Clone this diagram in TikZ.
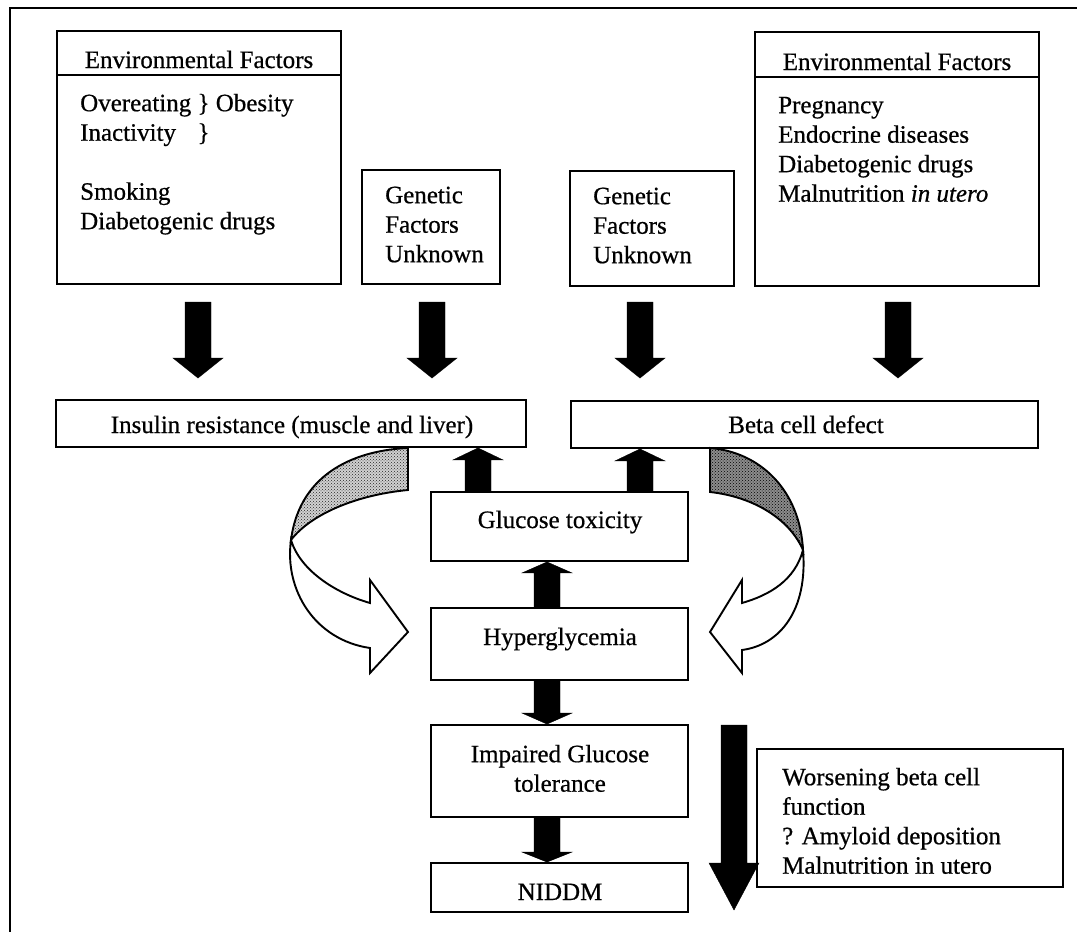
\documentclass[tikz,border=0pt]{standalone}
\usepackage{fontspec}
\setmainfont{Liberation Serif}[FakeBold=0.6]
\usetikzlibrary{calc,patterns}
\begin{document}
\begin{tikzpicture}[x=1pt,y=-1pt,
  box/.style={draw, line width=1.9pt, inner sep=0pt},
  txt/.style={inner sep=0pt, font=\fontsize{25}{29.5}\selectfont},
  multi/.style={txt, align=left, anchor=north west},
  curv/.style={draw, line width=1.9pt, line join=miter},
  fatdown/.style={fill=black, to path={let \p1=(\tikztostart), \p2=(\tikztotarget) in
    (\x1-13pt,\y1) -- (\x1-13pt,\y2+#1pt) -- (\x1-25pt,\y2+#1pt) -- (\x1,\y2)
    -- (\x1+25pt,\y2+#1pt) -- (\x1+13pt,\y2+#1pt) -- (\x1+13pt,\y1) -- cycle}},
  fatup/.style={fill=black, to path={let \p1=(\tikztostart), \p2=(\tikztotarget) in
    (\x1-13pt,\y1) -- (\x1-13pt,\y2-#1pt) -- (\x1-25pt,\y2-#1pt) -- (\x1,\y2)
    -- (\x1+25pt,\y2-#1pt) -- (\x1+13pt,\y2-#1pt) -- (\x1+13pt,\y1) -- cycle}}]
\useasboundingbox (0,0) rectangle (1077,932);

% outer frame
\draw[line width=2.4pt] (10,932) -- (10,8) -- (1077,8);

% boxes
\node[box, minimum width=284, minimum height=253] (envL) at (199,157.5) {};
\node[box, minimum width=138, minimum height=114] (genL) at (431,227) {};
\node[box, minimum width=164, minimum height=115] (genR) at (652,228.5) {};
\node[box, minimum width=284, minimum height=254] (envR) at (897,159) {};
\node[box, minimum width=470, minimum height=47] (ins) at (291,423.5) {};
\node[box, minimum width=467, minimum height=47] (beta) at (804.5,424.5) {};
\node[box, minimum width=257, minimum height=69] (gt) at (559.5,526.5) {};
\node[box, minimum width=257, minimum height=72] (hyp) at (559.5,644) {};
\node[box, minimum width=257, minimum height=92] (igt) at (559.5,771) {};
\node[box, minimum width=257, minimum height=49] (nid) at (559.5,887.5) {};
\node[box, minimum width=306, minimum height=138] (wor) at (910,818) {};

\draw[line width=1.9pt] ($(envL.north west)+(0,45)$) -- ($(envL.north east)+(0,45)$);
\draw[line width=1.9pt] ($(envR.north west)+(0,46)$) -- ($(envR.north east)+(0,46)$);

% texts
\node[txt, anchor=base] (hL) at (199,68) {Environmental Factors};
\node[txt, anchor=base] (hR) at (897,70) {Environmental Factors};
\node[multi] (bL) at (80,90.35) {\strut Overeating \} Obesity\\
  \rlap{Inactivity}\phantom{Overeating} \}\\[29.5pt]
  Smoking\\ Diabetogenic drugs};
\node[multi] (bR) at (778,92.35) {\strut Pregnancy\\ Endocrine diseases\\
  Diabetogenic drugs\\ Malnutrition \textit{in utero}};
\node[multi] (gLt) at (385,182.35) {\strut Genetic\\ Factors\\ Unknown};
\node[multi] (gRt) at (593,183.35) {\strut Genetic\\ Factors\\ Unknown};
\node[txt, anchor=base] (insT) at (292,433) {Insulin resistance (muscle and liver)};
\node[txt, anchor=base] (betaT) at (806,433) {Beta cell defect};
\node[txt, anchor=base] (gtT) at (560,528) {Glucose toxicity};
\node[txt, anchor=base] (hypT) at (560,645) {Hyperglycemia};
\node[txt, align=center, anchor=north] (igtT) at (560,741.35) {\strut Impaired Glucose\\ tolerance};
\node[txt, anchor=base] (nidT) at (560,900) {NIDDM};
\node[multi] (worT) at (782,764.35) {\strut Worsening beta cell\\ function\\
  ? Amyloid deposition\\ Malnutrition in utero};

% arrow coordinates
\coordinate (a1s) at (198,302); \coordinate (a1e) at (198,378);
\coordinate (a2s) at (432,302); \coordinate (a2e) at (432,378);
\coordinate (a3s) at (640,302); \coordinate (a3e) at (640,378);
\coordinate (a4s) at (898,302); \coordinate (a4e) at (898,378);
\coordinate (xl) at (478,0);
\coordinate (xr) at (640,0);
\coordinate (xm) at (547,0);
\coordinate (bigS) at (734,725); \coordinate (bigE) at (734,910);

\draw[fatdown=20] (a1s) to (a1e);
\draw[fatdown=20] (a2s) to (a2e);
\draw[fatdown=20] (a3s) to (a3e);
\draw[fatdown=20] (a4s) to (a4e);
\draw[fatup=12] (gt.north -| xl) to (ins.south -| xl);
\draw[fatup=12] (gt.north -| xr) to (beta.south -| xr);
\draw[fatup=11] (hyp.north -| xm) to (gt.south -| xm);
\draw[fatdown=11] (hyp.south -| xm) to (igt.north -| xm);
\draw[fatdown=10] (igt.south -| xm) to (nid.north -| xm);
\draw[fatdown=47] (bigS) to (bigE);

% left curved arrow
\fill[black!18] (408,448) .. controls (360,450) and (300,470) .. (291,540)
  .. controls (310,515) and (355,495) .. (408,490) -- cycle;
\draw[curv, pattern=crosshatch dots, pattern color=black!85]
  (408,448) .. controls (360,450) and (300,470) .. (291,540)
  .. controls (310,515) and (355,495) .. (408,490) -- cycle;
\draw[curv, fill=white]
  (291,540) .. controls (284,590) and (315,640) .. (370,648)
  -- (370,673) -- (408,632) -- (370,580) -- (370,603)
  .. controls (335,593) and (300,570) .. (291,540) -- cycle;

% right curved arrow
\fill[black!45] (710,448) .. controls (760,452) and (800,490) .. (803,550)
  .. controls (790,520) and (755,497) .. (710,492) -- cycle;
\draw[curv, pattern=crosshatch dots, pattern color=black]
  (710,448) .. controls (760,452) and (800,490) .. (803,550)
  .. controls (790,520) and (755,497) .. (710,492) -- cycle;
\draw[curv, fill=white]
  (803,550) .. controls (808,610) and (780,645) .. (742,650)
  -- (742,673) -- (710,632) -- (742,580) -- (742,603)
  .. controls (770,595) and (795,580) .. (803,550) -- cycle;
\end{tikzpicture}
\end{document}
